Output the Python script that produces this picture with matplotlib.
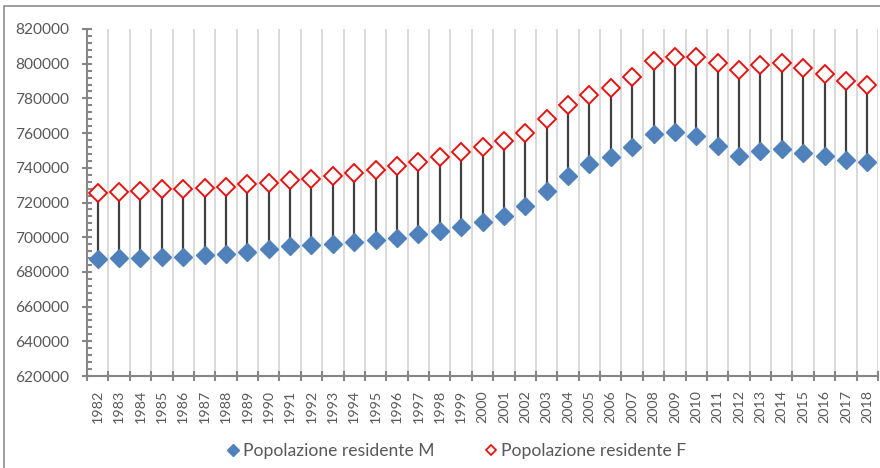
import matplotlib

matplotlib.use("Agg")

import matplotlib.pyplot as plt
from matplotlib.lines import Line2D
from matplotlib.patches import Rectangle
from matplotlib.ticker import FixedLocator, MultipleLocator
import numpy as np

years = list(range(1982, 2019))
pop_m = [
    687200, 688000, 688200, 688600, 688600, 689500, 690500, 691400, 693000, 694900,
    695700, 696300, 697200, 698300, 699700, 701600, 703700, 706000, 708900, 712300,
    717900, 726500, 735300, 742000, 746000, 751800, 759700, 760800, 758500, 752400,
    746600, 749900, 751000, 748600, 746600, 744500, 743200,
]
pop_f = [
    725300, 725900, 726700, 727500, 728000, 728200, 729200, 730500, 731500, 733200,
    733600, 735100, 736800, 738800, 740900, 743400, 746300, 748900, 752200, 755200,
    760000, 768300, 776100, 781900, 786100, 792600, 801400, 803700, 803900, 800500,
    796300, 799100, 800300, 797800, 794300, 790100, 788000,
]
label_m = "Popolazione residente M"
label_f = "Popolazione residente F"

BLUE = "#4f81bd"
RED = "#ff0000"
AXIS = "#868686"
TEXT = "#595959"
plt.rcParams["font.family"] = ["Lato", "DejaVu Sans"]

W, H = 880, 468
fig = plt.figure(figsize=(W / 100, H / 100), dpi=100)
ax = fig.add_axes([87 / W, 1 - 376 / H, (878 - 87) / W, (376 - 29) / H])

x = np.arange(len(years))
ax.vlines(x, pop_m, pop_f, color="#404040", lw=1.6, zorder=2)
ax.plot(x, pop_m, ls="none", marker="D", ms=9.5, mfc=BLUE, mec=BLUE, zorder=3)
ax.plot(x, pop_f, ls="none", marker="D", ms=8.8, mfc="white", mec=RED, mew=1.3, zorder=3)

ax.set_xlim(-0.5, len(years) - 0.5)
ax.set_ylim(620000, 820000)

ax.set_xticks(x)
ax.set_xticklabels([str(y) for y in years], rotation=90, fontsize=10.3, color=TEXT)
ax.xaxis.set_minor_locator(FixedLocator(np.arange(-0.5, len(years), 1.0)))
ax.tick_params(axis="x", which="major", length=0, pad=10)
ax.tick_params(axis="x", which="minor", direction="inout", length=6.5, width=1.5, color=AXIS)
ax.grid(axis="x", which="minor", color="#d9d9d9", lw=1.4, zorder=0)

ax.yaxis.set_major_locator(MultipleLocator(20000))
ax.yaxis.set_minor_locator(MultipleLocator(4000))
ax.tick_params(axis="y", which="major", direction="inout", length=6.5, width=1.5,
               color=AXIS, labelsize=11.2, labelcolor=TEXT, pad=9.5)
ax.tick_params(axis="y", which="minor", direction="in", length=3.5, width=1.5, color=AXIS)

for side in ("top", "right"):
    ax.spines[side].set_visible(False)
for side in ("left", "bottom"):
    ax.spines[side].set_color(AXIS)
    ax.spines[side].set_linewidth(1.5)

handles = [
    Line2D([], [], ls="none", marker="D", ms=6, mfc=BLUE, mec=BLUE),
    Line2D([], [], ls="none", marker="D", ms=5.5, mfc="white", mec=RED, mew=1.2),
]
fig.legend(handles, [label_m, label_f], loc="center", bbox_to_anchor=(0.52, 1 - 451 / H),
           ncol=2, frameon=False, fontsize=12.6, handlelength=0.5, handletextpad=0.3,
           columnspacing=3.0, labelcolor=TEXT)

fig.patches.append(Rectangle((4 / W, -0.1), 1.2, 1.1 - 6 / H, transform=fig.transFigure,
                             fill=False, ec="#8c8c8c", lw=1.2))

fig.savefig("out.png", dpi=100)
